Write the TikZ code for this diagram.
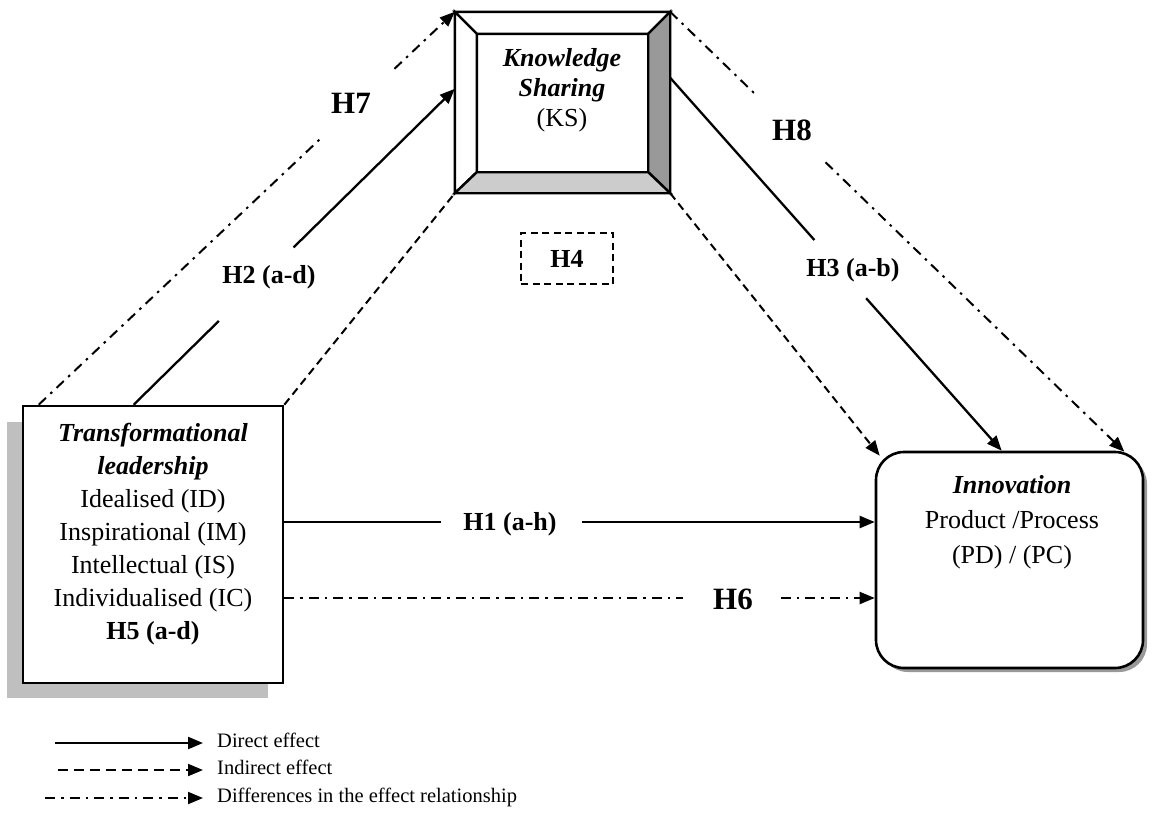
\documentclass[tikz,border=0pt]{standalone}
\usepackage{fontspec}
\setmainfont{Liberation Serif}
\usetikzlibrary{arrows.meta,calc}
\begin{document}
\begin{tikzpicture}[x=1pt,y=-1pt,
  tip/.style={-{Triangle[length=15pt,width=12pt]}},
  direct/.style={line width=2.3pt},
  indirect/.style={line width=2pt,dash pattern=on 8pt off 5pt},
  diff/.style={line width=2pt,dash pattern=on 10pt off 6pt on 2.5pt off 6pt},
  hlabel/.style={font=\fontsize{26}{30}\selectfont\bfseries, inner sep=0},
  biglabel/.style={font=\fontsize{31}{36}\selectfont\bfseries, inner sep=0},
  boxtext/.style={align=center, inner sep=0},
  legendtext/.style={anchor=base west, font=\fontsize{20.5}{24}\selectfont, inner sep=0},
  face/.style={line width=2.4pt, line join=miter},
]
\useasboundingbox (0,0) rectangle (1153,823);

% ---- shadows behind the two outer boxes
\fill[black!25] (7,422) rectangle (268,698);
\fill[black!40, rounded corners=28pt] (880,456) rectangle (1147,672);

% ---- Transformational leadership
\node[draw, line width=2.6pt, fill=white, minimum width=260, minimum height=277, inner sep=0] (tl) at (153,544.5) {};
\node[boxtext, font=\fontsize{26}{33}\selectfont] (tltext) at (153,534)
  {\textbf{\textit{Transformational}}\\ \textbf{\textit{leadership}}\\ Idealised (ID)\\ Inspirational (IM)\\ Intellectual (IS)\\ Individualised (IC)\\ \textbf{H5 (a-d)}};

% ---- Innovation
\node[draw, line width=2.6pt, fill=white, rounded corners=28pt, minimum width=267, minimum height=216, inner sep=0] (inn) at (1009.5,560) {};
\node[boxtext, font=\fontsize{26}{35}\selectfont] (inntext) at (1012,522)
  {\textbf{\textit{Innovation}}\\ Product /Process\\ (PD) / (PC)};

% ---- Knowledge Sharing (bevelled frame)
\node[minimum width=215, minimum height=181, inner sep=0] (ks) at (562.5,102.5) {};
\node[minimum width=171, minimum height=138, inner sep=0] (ksin) at (562.5,103) {};
\filldraw[face, fill=white] (ks.north west) -- (ks.north east) -- (ksin.north east) -- (ksin.north west) -- cycle;
\filldraw[face, fill=white] (ks.north west) -- (ksin.north west) -- (ksin.south west) -- (ks.south west) -- cycle;
\filldraw[face, fill=black!40] (ks.north east) -- (ks.south east) -- (ksin.south east) -- (ksin.north east) -- cycle;
\filldraw[face, fill=black!20] (ks.south west) -- (ks.south east) -- (ksin.south east) -- (ksin.south west) -- cycle;
\draw[face] (ksin.north west) rectangle (ksin.south east);
\node[boxtext, font=\fontsize{26}{30}\selectfont] (kstext) at (562,90)
  {\textbf{\textit{Knowledge}}\\ \textbf{\textit{Sharing}}\\ (KS)};

% ---- H7: TL -> KS (differences)
\coordinate (h7s) at ($(tl.north west)+(17,0)$);
\draw[diff] (h7s) -- ($(h7s)!0.681!(ks.north west)$);
\draw[diff,tip] ($(h7s)!0.855!(ks.north west)$) -- (ks.north west);
\node[biglabel] (h7) at (351,103) {H7};

% ---- H2: TL -> KS (direct)
\coordinate (h2s) at ($(tl.north west)+(112,0)$);
\coordinate (h2e) at ($(ks.north west)+(0,77)$);
\draw[direct] (h2s) -- ($(h2s)!0.265!(h2e)$);
\draw[direct,tip] ($(h2s)!0.498!(h2e)$) -- (h2e);
\node[hlabel] (h2) at (269,277) {H2 (a-d)};

% ---- H4: TL -> KS -> Innovation (indirect)
\coordinate (h4e) at ($(inn.north west)+(5,5)$);
\draw[indirect] (tl.north east) -- (ks.south west);
\draw[indirect,tip] (ks.south east) -- (h4e);
\node[hlabel, draw, line width=2pt, dash pattern=on 7pt off 4.5pt, minimum width=92, minimum height=51] (h4) at (567,258.5) {H4};

% ---- H3: KS -> Innovation (direct)
\coordinate (h3s) at ($(ks.north east)+(0,66)$);
\coordinate (h3e) at ($(inn.north west)+(127,0)$);
\draw[direct] (h3s) -- ($(h3s)!0.435!(h3e)$);
\draw[direct,tip] ($(h3s)!0.591!(h3e)$) -- (h3e);
\node[hlabel] (h3) at (853,270) {H3 (a-b)};

% ---- H8: KS -> Innovation (differences)
\coordinate (h8e) at ($(inn.north east)+(-20,1)$);
\draw[diff] (ks.north east) -- ($(ks.north east)!0.192!(h8e)$);
\draw[diff,tip] ($(ks.north east)!0.342!(h8e)$) -- (h8e);
\node[biglabel] (h8) at (792,130) {H8};

% ---- H1: TL -> Innovation (direct)
\coordinate (h1s) at ($(tl.east)+(0,-22.5)$);
\coordinate (h1e) at (inn.west |- h1s);
\draw[direct] (h1s) -- ($(h1s)!0.265!(h1e)$);
\draw[direct,tip] ($(h1s)!0.504!(h1e)$) -- (h1e);
\node[hlabel] (h1) at (510,524) {H1 (a-h)};

% ---- H6: TL -> Innovation (differences)
\coordinate (h6s) at ($(tl.east)+(0,53.5)$);
\coordinate (h6e) at (inn.west |- h6s);
\draw[diff] (h6s) -- ($(h6s)!0.676!(h6e)$);
\draw[diff,tip] ($(h6s)!0.841!(h6e)$) -- (h6e);
\node[biglabel] (h6) at (733,599) {H6};

% ---- legend
\coordinate (l1s) at (55,743);  \coordinate (l1e) at (203,743);
\coordinate (l2s) at (58,770);  \coordinate (l2e) at (203,770);
\coordinate (l3s) at (45,798);  \coordinate (l3e) at (203,798);
\draw[direct,tip] (l1s) -- (l1e);
\draw[indirect,dash pattern=on 10pt off 6pt,tip] (l2s) -- (l2e);
\draw[diff,tip] (l3s) -- (l3e);
\node[legendtext] (l1t) at (217,747) {Direct effect};
\node[legendtext] (l2t) at (217,774) {Indirect effect};
\node[legendtext] (l3t) at (217,802) {Differences in the effect relationship};
\end{tikzpicture}
\end{document}
